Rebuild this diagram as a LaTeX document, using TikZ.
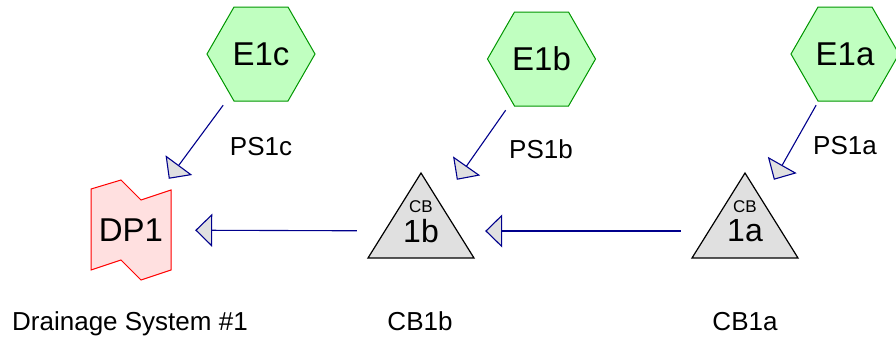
\documentclass[tikz,border=0pt]{standalone}
\usepackage{fontspec}
\setmainfont{Liberation Sans}
\usetikzlibrary{arrows.meta, calc, backgrounds}

\definecolor{hexline}{RGB}{0,150,0}
\definecolor{hexfill}{RGB}{192,255,192}
\definecolor{dpline}{RGB}{255,0,0}
\definecolor{dpfill}{RGB}{255,224,224}
\definecolor{cbfill}{RGB}{224,224,224}
\definecolor{flowblue}{RGB}{0,0,140}

\begin{document}
\begin{tikzpicture}[x=1pt, y=-1pt,
  cell/.style={rectangle, minimum width=128pt, minimum height=102pt,
    inner sep=0pt, font=\fontsize{33}{36}\selectfont},
  cbcell/.style={cell, font=\fontsize{32}{34}\selectfont},
  cbtag/.style={inner sep=0pt, font=\fontsize{17}{19}\selectfont},
  pslabel/.style={anchor=base, inner sep=0pt, font=\fontsize{26}{30}\selectfont},
  caption/.style={pslabel},
  hexshape/.style={draw=hexline, fill=hexfill, line width=1pt, line join=miter},
  dpshape/.style={draw=dpline, fill=dpfill, line width=1pt},
  cbshape/.style={draw=black, fill=cbfill, line width=1.2pt, line join=miter},
  flow/.style={draw=flowblue, line width=1.1pt,
    -{Triangle[length=17pt, width=33pt, fill=cbfill]}},
]
\useasboundingbox (0,0) rectangle (896,341);
% ====== SUBCATCHMENTS ======
\node[cell] (E1c) at (261,54) {E1c};
\node[cell] (E1b) at (541.5,59) {E1b};
\node[cell] (E1a) at (845,54) {E1a};
% ====== CATCH BASINS + OUTFALL ======
\node[cell] (DP1) at (131,230) {DP1};
\node[cbcell] (CB1b) at (421,231) {1b};
\node[cbcell] (CB1a) at (745,231) {1a};
\node[cbtag] (CB1b_tag) at ($(CB1b)+(0,-24)$) {CB};
\node[cbtag] (CB1a_tag) at ($(CB1a)+(0,-24)$) {CB};
%
% ====== LABELS ======
\node[pslabel] (PS1c) at (261,155) {PS1c};
\node[pslabel] (PS1b) at (541,158) {PS1b};
\node[pslabel] (PS1a) at (845,154) {PS1a};
\node[caption] (cap_dp1) at (130,330) {Drainage System \#1};
\node[caption] (cap_cb1b) at (420,330) {CB1b};
\node[caption] (cap_cb1a) at (745,330) {CB1a};
%
% ====== SHAPES ======
\begin{scope}[on background layer]
  \foreach \n in {E1c,E1b,E1a}
    \draw[hexshape] ($(\n)+(-54,0)$) -- ++(27,-47) -- ++(54,0) -- ++(27,47)
      -- ++(-27,47) -- ++(-54,0) -- cycle;
  \foreach \n in {CB1b,CB1a}
    \draw[cbshape] ($(\n)+(0,-58)$) -- ($(\n)+(53,27)$) -- ($(\n)+(-53,27)$) -- cycle;
  \draw[dpshape] ($(DP1)+(-40,-41)$) -- ++(30,-9) -- ++(20,20) -- ++(30,-10)
    -- ++(0,80) -- ++(-30,10) -- ++(-20,-20) -- ++(-30,10) -- cycle;
\end{scope}
%
% ====== LINKS ======
\draw[flow] (E1c) -- (DP1);
\draw[flow] (E1b) -- (CB1b);
\draw[flow] (E1a) -- (CB1a);
\draw[flow] (CB1b) -- (DP1);
\draw[flow] (CB1a) -- (CB1b);
\end{tikzpicture}
\end{document}
